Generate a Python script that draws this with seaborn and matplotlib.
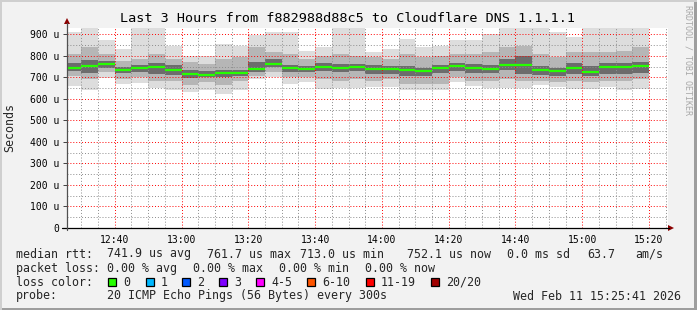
import numpy as np
import pandas as pd
import matplotlib
matplotlib.use("Agg")
import matplotlib.pyplot as plt
import seaborn as sns
from matplotlib.patches import Polygon, Rectangle
from matplotlib.lines import Line2D
from matplotlib.ticker import MultipleLocator, FixedLocator, FuncFormatter

# ---------------- data ----------------
title = "Last 3 Hours from f882988d88c5 to Cloudflare DNS 1.1.1.1"
# 5-minute columns, start times (minutes after 12:00): 12:25 ... 15:15
col_start = list(range(25, 200, 5))
median_us = [743, 751, 760, 733, 742, 748, 734, 715, 713, 720, 720, 738, 761.7, 743, 739, 748, 743, 748,
             740, 740, 733, 728, 743, 751, 743, 739, 759, 759, 733, 729, 743, 725, 748, 748, 752.1]
max_us = [910, 960, 872, 833, 960, 960, 847, 801, 801, 855, 847, 897, 909, 909, 824, 840, 960, 960,
          816, 833, 878, 840, 847, 871, 872, 901, 960, 960, 960, 909, 886, 960, 960, 960, 960]
up_mid_us = [808, 840, 808, 778, 785, 808, 785, 770, 762, 785, 793, 840, 816, 808, 785, 797, 808, 801,
             793, 785, 808, 793, 801, 808, 808, 816, 840, 847, 808, 793, 816, 816, 816, 824, 840]
up_dark_us = [765, 780, 775, 750, 758, 765, 755, 735, 728, 735, 735, 770, 785, 758, 752, 765, 762, 762,
              758, 752, 752, 745, 758, 765, 762, 758, 785, 800, 752, 745, 765, 752, 765, 765, 772]
lo_dark_us = [728, 722, 742, 720, 726, 715, 712, 695, 702, 700, 705, 724, 748, 726, 726, 728, 726, 728,
              715, 715, 708, 706, 720, 728, 722, 720, 735, 715, 712, 706, 715, 706, 715, 715, 722]
lo_mid_us = [708, 692, 723, 692, 700, 685, 685, 662, 677, 662, 685, 708, 723, 700, 700, 692, 685, 692,
             685, 692, 670, 670, 670, 700, 685, 685, 692, 685, 685, 677, 685, 677, 685, 685, 692]
min_us = [660, 640, 696, 671, 674, 648, 643, 632, 640, 623, 639, 694, 700, 670, 677, 646, 648, 652,
          654, 654, 639, 639, 639, 679, 659, 652, 652, 652, 663, 654, 646, 646, 654, 639, 646]

y_ticks = [0, 100, 200, 300, 400, 500, 600, 700, 800, 900]
x_major = [40, 60, 80, 100, 120, 140, 160, 180, 200]   # minutes after 12:00

legend_rows = [
    [(16, "median rtt:"), (107, "741.9 us avg"), (207, "761.7 us max"), (300, "713.0 us min"),
     (407, "752.1 us now"), (507, "0.0 ms sd"), (587, "63.7"), (635, "am/s")],
    [(16, "packet loss:"), (107, "0.00 % avg"), (193, "0.00 % max"), (279, "0.00 % min"), (365, "0.00 % now")],
]
loss_labels = ["0", "1", "2", "3", "4-5", "6-10", "11-19", "20/20"]
loss_colors = ["#26ff00", "#00b8ff", "#0059ff", "#7e00ff", "#ff00ff", "#ff5500", "#ff0000", "#a10000"]
loss_box_x = [108, 146, 182, 219, 256, 307, 366, 431]
probe_text = "20 ICMP Echo Pings (56 Bytes) every 300s"
stamp_text = "Wed Feb 11 15:25:41 2026"

# ---------------- figure ----------------
W, H = 697, 310
sns.set_theme(style="white")
plt.rcParams["font.family"] = ["DejaVu Sans Mono", "DejaVu Sans"]
fig = plt.figure(figsize=(W / 100, H / 100), dpi=100)
fig.patch.set_facecolor("#f2f2f2")

def fx(x):
    return x / W

def fy(y):
    return 1 - y / H

ax = fig.add_axes([fx(67), 82 / H, 601 / W, 200 / H])
ax.set_facecolor("white")

t0 = np.array(col_start, dtype=float)
lo1, hi1 = np.array(min_us), np.array(max_us)
lo2, hi2 = np.array(lo_mid_us), np.array(up_mid_us)
lo3, hi3 = np.array(lo_dark_us), np.array(up_dark_us)
for lo, hi, c in [(lo1, hi1, "#dddddd"), (lo2, hi2, "#b6b6b6"), (lo3, hi3, "#6c6c6c")]:
    ax.bar(t0, hi - lo, bottom=lo, width=5, align="edge", color=c, linewidth=0, zorder=1)

med = np.array(median_us)
idx = np.arange(len(col_start))
med_df = pd.DataFrame({"t": np.concatenate([t0, t0 + 5]),
                       "rtt": np.concatenate([med, med]),
                       "col": np.concatenate([idx, idx])})
sns.lineplot(data=med_df, x="t", y="rtt", units="col", estimator=None, color="#26ff00",
             lw=1.6, ax=ax, legend=False, zorder=4, solid_capstyle="butt")

ax.set_xlim(25 + 41 / 60, 205 + 41 / 60)
ax.set_ylim(0, 929)
ax.set_xlabel("")
ax.set_ylabel("")
for s in ax.spines.values():
    s.set_visible(False)

ax.xaxis.set_major_locator(FixedLocator(x_major))
ax.xaxis.set_minor_locator(MultipleLocator(5))
ax.xaxis.set_major_formatter(FuncFormatter(lambda v, p: f"{12 + int(v) // 60}:{int(v) % 60:02d}"))
ax.yaxis.set_major_locator(FixedLocator(y_ticks))
ax.yaxis.set_minor_locator(MultipleLocator(50))
ax.yaxis.set_major_formatter(FuncFormatter(lambda v, p: "0" if v == 0 else f"{int(v)} u"))
ax.tick_params(axis="x", which="major", length=2, width=0.7, color="#ff8080", pad=3,
               labelsize=7, labelcolor="#000000", direction="out")
ax.tick_params(axis="y", which="major", length=3.2, width=0.7, color="#404040", pad=2.5,
               labelsize=7, labelcolor="#000000", direction="out", left=True)
ax.tick_params(which="minor", length=0)
ax.set_axisbelow(False)
ax.grid(which="major", color=(1, 0, 0, 0.3), linestyle=(0, (1, 2)), lw=0.7)
ax.grid(which="minor", color=(0.55, 0.55, 0.55, 0.4), linestyle=(0, (1, 2)), lw=0.7)

# axis lines and arrows (decoration)
fig.add_artist(Line2D([fx(62), fx(669)], [fy(228), fy(228)], color="#000000", lw=0.9))
fig.add_artist(Line2D([fx(67), fx(67)], [fy(230), fy(23)], color="#505050", lw=0.9))
fig.add_artist(Polygon([[fx(668), fy(225)], [fx(668), fy(231)], [fx(674), fy(228)]],
                       closed=True, color="#8b0000", lw=0))
fig.add_artist(Polygon([[fx(64), fy(24)], [fx(70), fy(24)], [fx(67), fy(18)]],
                       closed=True, color="#8b0000", lw=0))

# title, y label, watermark
fig.text(fx(348), fy(19), title, ha="center", va="center", fontsize=9.7, color="#000000")
fig.text(fx(10), fy(128), "Seconds", rotation=90, ha="center", va="center", fontsize=8.4)
fig.text(fx(688), fy(60), "RRDTOOL / TOBI OETIKER", rotation=270, ha="center", va="center",
         fontsize=6, color="#a8a8a8")

# legend rows
row_y = [254, 268.3, 282.3, 296]
for r, row in enumerate(legend_rows):
    for x, s in row:
        fig.text(fx(x), fy(row_y[r]), s, ha="left", va="center", fontsize=8.4)
fig.text(fx(16), fy(row_y[2]), "loss color:", ha="left", va="center", fontsize=8.4)
for bx, lab, col in zip(loss_box_x, loss_labels, loss_colors):
    fig.add_artist(Rectangle((fx(bx), fy(row_y[2] + 4)), 8 / W, 8 / H, facecolor=col,
                             edgecolor="#000000", lw=0.9))
    fig.text(fx(bx + 15), fy(row_y[2]), lab, ha="left", va="center", fontsize=8.4)
fig.text(fx(16), fy(row_y[3]), "probe:", ha="left", va="center", fontsize=8.4)
fig.text(fx(107), fy(row_y[3]), probe_text, ha="left", va="center", fontsize=8.4)
fig.text(fx(681), fy(row_y[3]), stamp_text, ha="right", va="center", fontsize=8.4)

# outer frame
fig.add_artist(Rectangle((0, 0), 1, 2 / H, facecolor="#9e9e9e", lw=0))
fig.add_artist(Rectangle((1 - 3 / W, 0), 3 / W, 1, facecolor="#9e9e9e", lw=0))
fig.add_artist(Rectangle((0, 1 - 2 / H), 1, 2 / H, facecolor="#cfcfcf", lw=0))
fig.add_artist(Rectangle((0, 0), 2 / W, 1, facecolor="#cfcfcf", lw=0))

fig.savefig("out.png", dpi=100, facecolor=fig.get_facecolor())
